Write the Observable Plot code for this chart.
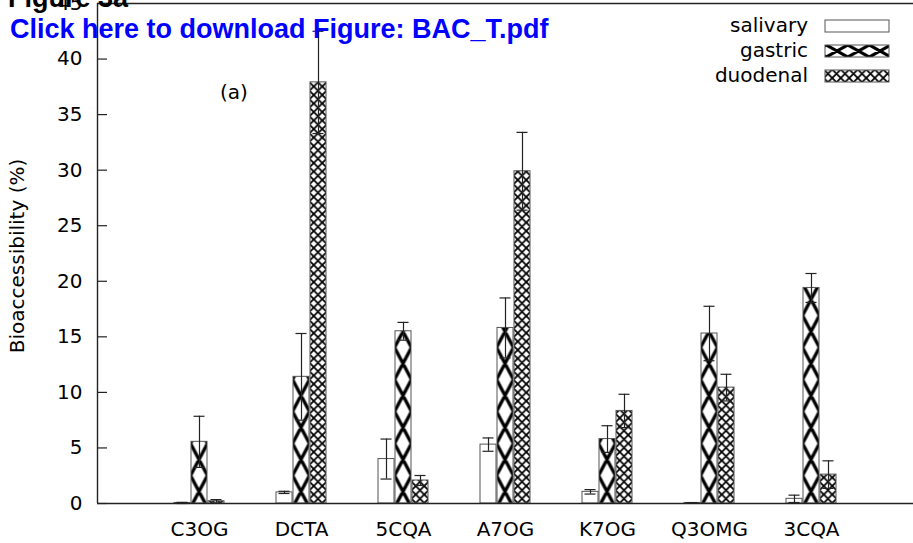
<!DOCTYPE html>
<html><head><meta charset="utf-8">
<script src="https://cdn.jsdelivr.net/npm/d3@7"></script>
<script src="https://cdn.jsdelivr.net/npm/@observablehq/plot@0.6"></script>
<style>
html,body{margin:0;padding:0;background:#fff;}
#chart{position:relative;width:913px;height:543px;overflow:hidden;}
</style></head><body><div id="chart"></div>
<script>
// ---- data ----
const categories = ["C3OG", "DCTA", "5CQA", "A7OG", "K7OG", "Q3OMG", "3CQA"];
const seriesNames = ["salivary", "gastric", "duodenal"];
const salivary    = [0.05, 1.0, 4.0, 5.3, 1.05, 0.05, 0.42];
const salivaryErr = [0.05, 0.1, 1.8, 0.6, 0.2, 0.03, 0.33];
const gastric     = [5.55, 11.4, 15.5, 15.8, 5.8, 15.3, 19.4];
const gastricErr  = [2.3, 3.9, 0.8, 2.7, 1.2, 2.45, 1.3];
const duodenal    = [0.2, 37.9, 2.07, 29.9, 8.33, 10.43, 2.6];
const duodenalErr = [0.15, 4.6, 0.45, 3.5, 1.5, 1.2, 1.24];
const yTicks = [0, 5, 10, 15, 20, 25, 30, 35, 40, 45];
const yLabel = "Bioaccessibility (%)";
const panelLabel = "(a)";
const headerTitle = "Figure 3a";
const headerLink = "Click here to download Figure: BAC_T.pdf";

// ---- layout ----
const W = 913, H = 543, mL = 97, mR = 0, mT = 3, mB = 40;
const fills = {salivary: "white", gastric: "url(#pGastric)", duodenal: "url(#pDuodenal)"};
const legendFills = {salivary: "white", gastric: "url(#pGastricLegend)", duodenal: "url(#pDuodenal)"};
const vals = {salivary, gastric, duodenal};
const errs = {salivary: salivaryErr, gastric: gastricErr, duodenal: duodenalErr};

const rows = [];
categories.forEach((c, i) => seriesNames.forEach((s, j) => {
  rows.push({cat: c, series: s, pos: i + 1 + (j - 1) / 6, value: vals[s][i], err: errs[s][i]});
}));
const half = 1 / 12, cap = 0.054;

const barMarks = seriesNames.map(s => Plot.rectY(rows.filter(r => r.series === s), {
  x1: d => d.pos - half, x2: d => d.pos + half, y1: 0, y2: "value",
  fill: fills[s], stroke: "#555", strokeWidth: 1, insetLeft: 0.5, insetRight: 0.5
}));

const plot = Plot.plot({
  width: W, height: H,
  marginLeft: mL, marginRight: mR, marginTop: mT, marginBottom: mB,
  style: {fontFamily: "DejaVu Sans", fontSize: "20px", background: "white", color: "black", overflow: "visible"},
  x: {domain: [0, categories.length + 1], axis: null},
  y: {domain: [0, 45], axis: null},
  marks: [
    Plot.axisX({ticks: categories.map((c, i) => i + 1), tickSize: 0, tickPadding: 18,
      tickFormat: d => categories[d - 1], label: null, fontSize: 20}),
    Plot.axisY({ticks: yTicks, tickSize: 0, tickPadding: 15, tickFormat: d => String(d), label: null, fontSize: 20}),
    Plot.tickY(yTicks, {y: d => d, insetRight: W - mL - mR - 10, stroke: "#222", strokeWidth: 1.2}),
    ...barMarks,
    Plot.ruleX(rows, {x: "pos", y1: d => Math.max(0, d.value - d.err), y2: d => d.value + d.err, stroke: "#222", strokeWidth: 1.2}),
    Plot.ruleY(rows, {y: d => d.value + d.err, x1: d => d.pos - cap, x2: d => d.pos + cap, stroke: "#222", strokeWidth: 1.2}),
    Plot.ruleY(rows, {y: d => Math.max(0, d.value - d.err), x1: d => d.pos - cap, x2: d => d.pos + cap, stroke: "#222", strokeWidth: 1.2}),
    Plot.ruleX([0], {stroke: "#222", strokeWidth: 1.4}),
    Plot.ruleY([0], {stroke: "#222", strokeWidth: 1.4}),
    Plot.ruleY([45], {stroke: "#222", strokeWidth: 1.4})
  ]
});

const svg = d3.select(plot);
const xs = plot.scale("x"), ys = plot.scale("y");
const defs = svg.insert("defs", ":first-child");

function xPattern(id, tw, th, x, y, sw) {
  const p = defs.append("pattern").attr("id", id).attr("patternUnits", "userSpaceOnUse")
    .attr("width", tw).attr("height", th).attr("x", x).attr("y", y);
  p.append("rect").attr("width", tw).attr("height", th).attr("fill", "white");
  let d = "";
  for (const ox of [-tw, 0, tw]) for (const oy of [-th, 0, th]) {
    d += `M${ox},${oy}L${ox + tw},${oy + th}M${ox + tw},${oy}L${ox},${oy + th}`;
  }
  p.append("path").attr("d", d).attr("stroke", "black").attr("stroke-width", sw).attr("fill", "none");
}
// gastric: big heavy X pattern
xPattern("pGastric", 17, 32, xs.apply(1) - 8.5, ys.apply(0) - 11.5 - 16, 3.4);
// gastric legend sample: X's spanning the sample height
xPattern("pGastricLegend", 21.5, 12, 837 - 10.75, 20 + 25, 3.2);
// duodenal: fine crosshatch
xPattern("pDuodenal", 8.5, 8.5, xs.apply(1 + 1 / 6) - 4.25, ys.apply(0), 1.8);

// y label
svg.append("text").attr("transform", "translate(23.5,256) rotate(-90)")
  .attr("text-anchor", "middle").attr("font-family", "DejaVu Sans").attr("font-size", 20)
  .attr("fill", "black").text(yLabel);

// panel label
svg.append("text").attr("x", 234).attr("y", 99).attr("text-anchor", "middle")
  .attr("font-family", "DejaVu Sans").attr("font-size", 20).attr("fill", "black").text(panelLabel);

// legend
const lg = svg.append("g").attr("font-family", "DejaVu Sans").attr("font-size", 20);
seriesNames.forEach((s, i) => {
  const base = 32 + 25 * i;
  lg.append("text").attr("x", 808).attr("y", base).attr("text-anchor", "end").attr("fill", "black").text(s);
  lg.append("rect").attr("x", 825).attr("y", base - 12).attr("width", 64).attr("height", 12)
    .attr("fill", legendFills[s]).attr("stroke", "#555").attr("stroke-width", 1);
});

// header overlay text
svg.append("text").attr("x", 8).attr("y", 7).attr("text-anchor", "start").attr("font-family", "Liberation Sans")
  .attr("font-weight", "bold").attr("font-size", 27).attr("fill", "black").text(headerTitle);
svg.append("text").attr("x", 10).attr("y", 38).attr("text-anchor", "start").attr("font-family", "Liberation Sans")
  .attr("font-weight", "bold").attr("font-size", 27).attr("fill", "#0000ff").text(headerLink);

document.getElementById("chart").appendChild(plot);
</script>
</body></html>
